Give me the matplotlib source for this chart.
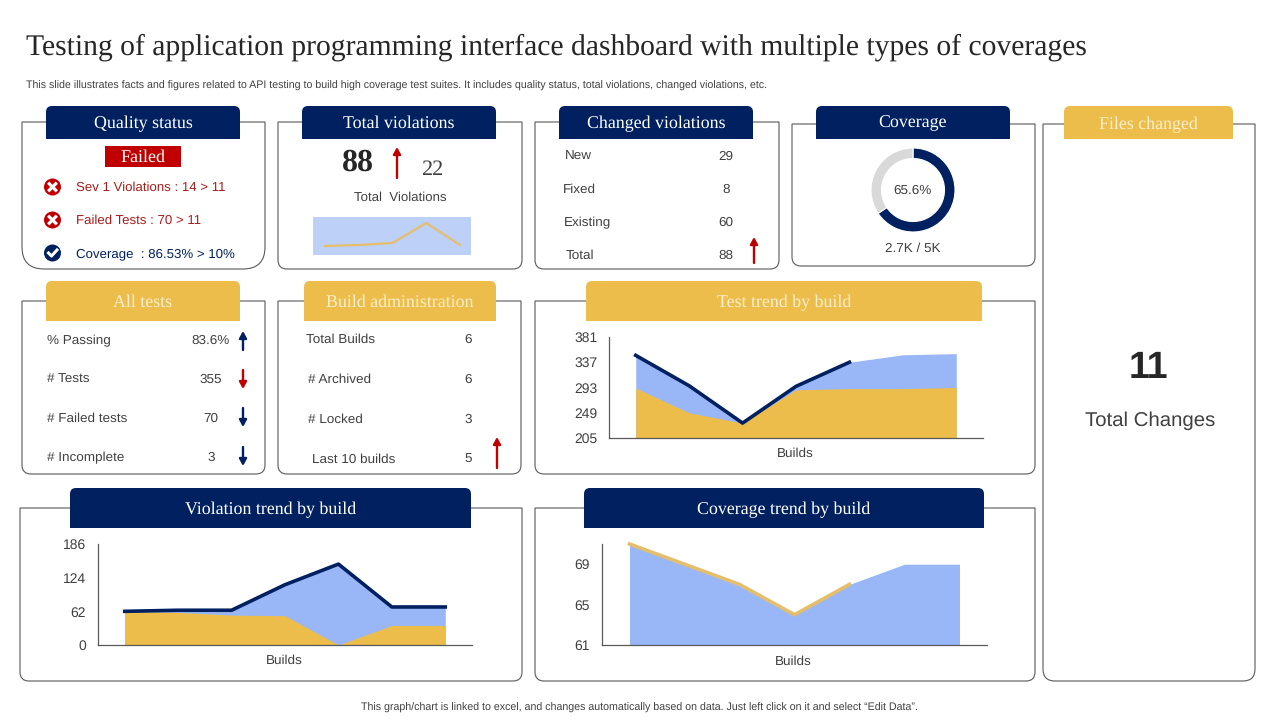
import matplotlib
matplotlib.use('Agg')
import matplotlib.pyplot as plt
from matplotlib.patches import PathPatch, Rectangle, Circle
from matplotlib.path import Path

NAVY = '#002060'
YELLOW = '#EDBD4C'
BLUE = '#99B7F7'
LIGHT = '#BDD0F7'
RED = '#C00000'
GRAY = '#404040'
EDGE = '#595959'
SERIF = 'Liberation Serif'
SANS = 'Liberation Sans'

plt.rcParams['font.family'] = SANS
plt.rcParams['text.hinting'] = 'no_hinting'
plt.rcParams['text.hinting_factor'] = 8

# data
status_lines = ['Sev 1 Violations : 14 > 11', 'Failed Tests : 70 > 11', 'Coverage  : 86.53% > 10%']
spark_values = [9, 10, 12, 32, 10]
changed_labels = ['New', 'Fixed', 'Existing', 'Total']
changed_values = ['29', '8', '60', '88']
coverage_share = [65.6, 34.4]
test_labels = ['% Passing', '# Tests', '# Failed tests', '# Incomplete']
test_values = ['83.6%', '355', '70', '3']
build_labels = ['Total Builds', '# Archived', '# Locked', 'Last 10 builds']
build_values = ['6', '6', '3', '5']

test_total = [350, 296, 231, 295, 337, 350, 352]
test_passed = [292, 249, 231, 289, 291, 291, 293]
test_line = [349, 296, 231, 295, 337]
test_ticks = [205, 249, 293, 337, 381]

viol_total = [62, 64, 64, 111, 149, 70, 70]
viol_new = [62, 60, 55, 54, 0, 36, 36]
viol_line = [62, 64, 64, 111, 149, 70, 70]
viol_ticks = [0, 62, 124, 186]

cov_total = [71, 69, 67, 64, 67, 69, 69]
cov_line = [71, 69, 67, 64, 67]
cov_ticks = [61, 65, 69]

fig = plt.figure(figsize=(12.8, 7.2), dpi=100)
ax = fig.add_axes([0, 0, 1, 1])
ax.set_xlim(0, 1280)
ax.set_ylim(720, 0)
ax.axis('off')


def card(x0, y0, x1, y1, r=9):
    verts = [(x0, y0), (x0, y1 - r), (x0, y1), (x0 + r, y1), (x1 - r, y1), (x1, y1), (x1, y1 - r), (x1, y0), (x0, y0)]
    codes = [Path.MOVETO, Path.LINETO, Path.CURVE3, Path.CURVE3, Path.LINETO, Path.CURVE3, Path.CURVE3, Path.LINETO, Path.CLOSEPOLY]
    ax.add_patch(PathPatch(Path(verts, codes), fc='white', ec=EDGE, lw=0.8, zorder=1))


def header(x0, y0, x1, y1, label, color, tc='white', size=12.9, dy=1.5):
    r = 6
    verts = [(x0, y1), (x0, y0 + r), (x0, y0), (x0 + r, y0), (x1 - r, y0), (x1, y0), (x1, y0 + r), (x1, y1), (x0, y1)]
    codes = [Path.MOVETO, Path.LINETO, Path.CURVE3, Path.CURVE3, Path.LINETO, Path.CURVE3, Path.CURVE3, Path.LINETO, Path.CLOSEPOLY]
    ax.add_patch(PathPatch(Path(verts, codes), fc=color, ec='none', zorder=2))
    ax.text((x0 + x1) / 2, (y0 + y1) / 2 + dy, label, color=tc, family=SERIF, fontsize=size,
            ha='center', va='center', zorder=3)


def arrow(x, y_from, y_to, color, lw=1.7):
    ax.annotate('', xy=(x, y_to), xytext=(x, y_from), zorder=3,
                arrowprops=dict(arrowstyle='-|>,head_width=0.22,head_length=0.4', color=color, lw=lw,
                                shrinkA=0, shrinkB=0))


def label(x, y, s, color=GRAY, size=9.7, ha='left', **kw):
    ax.text(x, y + 1, s, color=color, fontsize=size, ha=ha, va='center', zorder=3, **kw)


def icon(x, y, color, ok=False):
    ax.add_patch(Circle((x, y), 8.5, fc=color, ec='none', zorder=3))
    if ok:
        ax.plot([x - 4, x - 1, x + 4.5], [y, y + 3, y - 3], color='white', lw=2.2, zorder=4)
    else:
        ax.plot([x - 3.2, x + 3.2], [y - 3.2, y + 3.2], color='white', lw=2.3, zorder=4)
        ax.plot([x - 3.2, x + 3.2], [y + 3.2, y - 3.2], color='white', lw=2.3, zorder=4)


def sub_axes(x0, y0, x1, y1):
    return fig.add_axes([x0 / 1280, 1 - y1 / 720, (x1 - x0) / 1280, (y1 - y0) / 720])


def trend_axes(x0, y0, x1, y1, ylim, ticks, xlabel_y):
    a = sub_axes(x0, y0, x1, y1)
    a.set_xlim(-0.5, 6.5)
    a.set_ylim(*ylim)
    a.set_xticks([])
    a.set_yticks(ticks)
    a.tick_params(axis='y', length=0, pad=8.5, labelsize=10, labelcolor=GRAY)
    for s in ['top', 'right']:
        a.spines[s].set_visible(False)
    for s in ['left', 'bottom']:
        a.spines[s].set_color(EDGE)
        a.spines[s].set_linewidth(0.9)
    a.patch.set_alpha(0)
    label((x0 + x1) / 2 - 1, xlabel_y, 'Builds', ha='center')
    return a


# title
ax.text(26, 47, 'Testing of application programming interface dashboard with multiple types of coverages',
        family=SERIF, fontsize=21.3, color='#262626', va='center')
ax.text(26, 85.5, 'This slide illustrates facts and figures related to API testing to build high coverage test suites. '
        'It includes quality status, total violations, changed violations, etc.',
        fontsize=7.7, color=GRAY, va='center')
ax.text(639, 707.5, 'This graph/chart is linked to excel, and changes automatically based on data. Just left click on it and select \u201cEdit Data\u201d.',
        fontsize=7.7, color=GRAY, va='center', ha='center')

# cards
card(22, 122, 265, 269, r=22)
card(278, 122, 522, 269)
card(535, 122, 779, 269)
card(792, 124, 1035, 266)
card(22, 301, 265, 474)
card(278, 301, 521, 474)
card(535, 301, 1035, 474)
card(20, 508, 522, 681)
card(535, 508, 1035, 681)
card(1043, 124, 1255, 681, r=12)

header(46, 106, 240, 139, 'Quality status', NAVY)
header(302, 106, 496, 139, 'Total violations', NAVY)
header(559, 106, 753, 139, 'Changed violations', NAVY)
header(816, 106, 1010, 139, 'Coverage', NAVY, dy=0.5)
header(1064, 106, 1233, 139, 'Files changed', YELLOW, '#FBEFCB', dy=2.5)
header(46, 281, 240, 321, 'All tests', YELLOW, '#FBEFCB')
header(304, 281, 496, 321, 'Build administration', YELLOW, '#FBEFCB')
header(586, 281, 982, 321, 'Test trend by build', YELLOW, '#FBEFCB')
header(70, 488, 471, 528, 'Violation trend by build', NAVY)
header(584, 488, 984, 528, 'Coverage trend by build', NAVY)

# quality status
ax.add_patch(Rectangle((105, 146), 76, 21, fc=RED, ec='none', zorder=2))
ax.text(143, 158, 'Failed', color='white', family=SERIF, fontsize=13, ha='center', va='center', zorder=3)
for y, s, c, ok in zip([187, 220, 253], status_lines, ['#A81C1C', '#A81C1C', NAVY], [False, False, True]):
    icon(52.5, y, RED if not ok else NAVY, ok)
    label(76, y, s, color=c, size=9.5)

# total violations
ax.text(358, 163, '88', family=SERIF, fontsize=23, fontweight='bold', color='#262626', ha='center', va='center', zorder=3)
arrow(397, 178, 147, RED)
ax.text(432, 170, '22', family=SERIF, fontsize=16, color=GRAY, ha='center', va='center', zorder=3)
label(400, 197, 'Total  Violations', ha='center', size=9.5)
sp = sub_axes(313, 217, 471, 255)
sp.set_facecolor(LIGHT)
sp.plot(range(len(spark_values)), spark_values, color='#E5BE6C', lw=1.6)
sp.set_xlim(-0.356, 4.326)
sp.set_ylim(0, 38)
sp.set_xticks([])
sp.set_yticks([])
for s in sp.spines.values():
    s.set_visible(False)

# changed violations
for x, y, s, v in zip([565, 563, 564, 566], [156, 189, 222, 255], changed_labels, changed_values):
    label(x, y, s)
    label(726, y, v, ha='center')
arrow(754, 263, 237, RED)

# coverage donut
dn = sub_axes(871, 148, 955, 232)
dn.pie(coverage_share, colors=[NAVY, '#D9D9D9'], startangle=90, counterclock=False, radius=1.0,
       wedgeprops=dict(width=0.25, edgecolor='white', linewidth=0.8))
dn.set_xlim(-1, 1)
dn.set_ylim(-1, 1)
label(912.5, 190, '65.6%', ha='center')
label(913, 248, '2.7K / 5K', ha='center')

# all tests
arrow_style = [(243, 350, 331, NAVY), (243, 370, 389, RED), (243, 408, 427, NAVY), (243, 447, 466, NAVY)]
for y, s, v, a in zip([340, 379, 418, 457], test_labels, test_values, arrow_style):
    label(47, y, s)
    label(211, y, v, ha='center')
    arrow(a[0], a[1], a[2], a[3])

# build administration
for x, y, s, v in zip([306, 308, 308, 312], [339, 379, 419, 459], build_labels, build_values):
    label(x, y, s)
    label(468, y, v, ha='center')
arrow(497, 468, 437, RED)

# files changed
ax.text(1148, 368, '11', fontsize=27, fontweight='bold', color='#262626', ha='center', va='center', zorder=3)
ax.text(1150, 421, 'Total Changes', fontsize=14.7, color=GRAY, ha='center', va='center', zorder=3)

# test trend
ta = trend_axes(609, 337, 983, 438, (205, 381), test_ticks, 453)
ta.fill_between(range(7), test_total, 205, color=BLUE, lw=0)
ta.fill_between(range(7), test_passed, 205, color=YELLOW, lw=0)
ta.plot(range(5), test_line, color=NAVY, lw=2.6, clip_on=False)

# violation trend
va = trend_axes(98, 544, 472, 645, (0, 186), viol_ticks, 660)
va.fill_between(range(7), viol_total, 0, color=BLUE, lw=0)
va.fill_between(range(7), viol_new, 0, color=YELLOW, lw=0)
va.plot(range(7), viol_line, color=NAVY, lw=2.6, clip_on=False)

# coverage trend
ca = trend_axes(602, 544, 987, 645, (61, 71), cov_ticks, 661)
ca.fill_between(range(7), cov_total, 61, color=BLUE, lw=0)
ca.plot(range(5), cov_line, color='#E5BE6C', lw=2.6, clip_on=False)

fig.savefig('out.png', dpi=100)
